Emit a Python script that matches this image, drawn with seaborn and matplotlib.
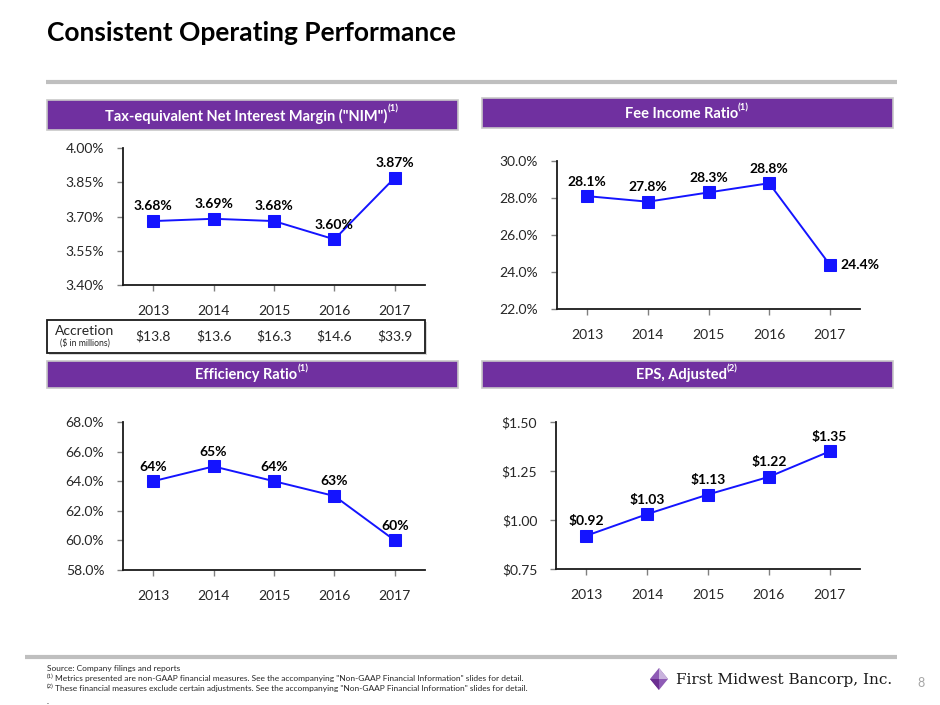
import numpy as np
import pandas as pd
import matplotlib
matplotlib.use("Agg")
import matplotlib.pyplot as plt
import seaborn as sns
from matplotlib import transforms
from matplotlib.patches import Rectangle, Polygon

# ---------------- data ----------------
years = ["2013", "2014", "2015", "2016", "2017"]
nim_values = [3.68, 3.69, 3.68, 3.60, 3.87]
nim_labels = ["3.68%", "3.69%", "3.68%", "3.60%", "3.87%"]
nim_ticks = [3.40, 3.55, 3.70, 3.85, 4.00]
accretion = ["$13.8", "$13.6", "$16.3", "$14.6", "$33.9"]

fee_values = [28.1, 27.8, 28.3, 28.8, 24.4]
fee_labels = ["28.1%", "27.8%", "28.3%", "28.8%", "24.4%"]
fee_ticks = [22.0, 24.0, 26.0, 28.0, 30.0]

eff_values = [64, 65, 64, 63, 60]
eff_labels = ["64%", "65%", "64%", "63%", "60%"]
eff_ticks = [58.0, 60.0, 62.0, 64.0, 66.0, 68.0]

eps_values = [0.92, 1.03, 1.13, 1.22, 1.35]
eps_labels = ["$0.92", "$1.03", "$1.13", "$1.22", "$1.35"]
eps_ticks = [0.75, 1.00, 1.25, 1.50]

# ---------------- style ----------------
sns.set_theme(style="white")
plt.rcParams["font.family"] = ["Lato", "DejaVu Sans"]

W, H = 940, 705
PURPLE = "#7030A0"
BLUE = "#1414FF"
TXT = "#262626"

fig = plt.figure(figsize=(W / 100, H / 100), dpi=100)
fig.patch.set_facecolor("white")

bg = fig.add_axes([0, 0, 1, 1], zorder=-5)
bg.set_xlim(0, W)
bg.set_ylim(H, 0)
bg.axis("off")

# title + rules
bg.text(47, 33, "Consistent Operating Performance", fontsize=19, fontweight="bold",
        color="black", ha="left", va="center")
bg.plot([46, 897], [82, 82], color="#BFBFBF", lw=3, solid_capstyle="butt")
bg.plot([25, 897], [657, 657], color="#BFBFBF", lw=3, solid_capstyle="butt")


def header(x0, x1, y0, y1, text, sup):
    bg.add_patch(Rectangle((x0, y0), x1 - x0, y1 - y0, facecolor=PURPLE,
                           edgecolor="#C8C8C8", lw=1.2))
    t = bg.text((x0 + x1) / 2 - 6, (y0 + y1) / 2 + 1, text, color="white",
                fontsize=10.5, fontweight="bold", ha="center", va="center")
    bg.annotate(sup, xy=(1.0, 0.95), xycoords=t, ha="left", va="center",
                color="white", fontsize=7, fontweight="bold")


header(47, 458, 100, 130, 'Tax-equivalent Net Interest Margin ("NIM")', "(1)")
header(482, 893, 98, 128, "Fee Income Ratio", "(1)")
header(47, 458, 361, 388, "Efficiency Ratio", "(1)")
header(482, 893, 361, 388, "EPS, Adjusted", "(2)")


def chart(l, t, r, b, vals, labels, ticks, fmt, offsets):
    ax = fig.add_axes([l / W, 1 - b / H, (r - l) / W, (b - t) / H])
    df = pd.DataFrame({"Year": years, "Value": vals})
    sns.lineplot(data=df, x="Year", y="Value", ax=ax, color=BLUE, lw=1.4,
                 marker="s", markersize=8, markerfacecolor=BLUE,
                 markeredgecolor=BLUE, sort=False)
    ax.set_xlim(-0.5, 4.5)
    ax.set_ylim(ticks[0], ticks[-1])
    ax.set_yticks(ticks)
    ax.set_yticklabels([fmt(v) for v in ticks])
    ax.set_xlabel("")
    ax.set_ylabel("")
    ax.set_facecolor("none")
    for s in ["top", "right"]:
        ax.spines[s].set_visible(False)
    for s in ["left", "bottom"]:
        ax.spines[s].set_color("#1a1a1a")
        ax.spines[s].set_linewidth(1.3)
    ax.tick_params(axis="both", which="major", length=4.5, width=1,
                   color="#808080", labelsize=10, labelcolor=TXT,
                   direction="out", left=True, bottom=True)
    ax.tick_params(axis="x", pad=10)
    ax.tick_params(axis="y", pad=9)
    for i, (v, lab) in enumerate(zip(vals, labels)):
        dx, dy, ha = offsets[i]
        ax.annotate(lab, (i, v), xytext=(dx, dy), textcoords="offset points",
                    ha=ha, va="center", fontsize=10, fontweight="bold",
                    color="black")
    return ax


up = (0, 10.5, "center")
ax_nim = chart(123, 148, 425, 285, nim_values, nim_labels, nim_ticks,
               lambda v: f"{v:.2f}%", [up] * 5)
ax_fee = chart(557, 161, 860, 309, fee_values, fee_labels, fee_ticks,
               lambda v: f"{v:.1f}%", [up, up, up, up, (8, 0, "left")])
ax_eff = chart(123, 422, 425, 570, eff_values, eff_labels, eff_ticks,
               lambda v: f"{v:.1f}%", [up] * 5)
ax_eps = chart(556, 422, 860, 569, eps_values, eps_labels, eps_ticks,
               lambda v: f"${v:.2f}", [up] * 5)

# accretion box
bg.add_patch(Rectangle((49, 322), 378, 33, facecolor="#D9D9D9", edgecolor="none"))
bg.add_patch(Rectangle((47, 320), 378, 33, facecolor="white", edgecolor="#1a1a1a", lw=1.3))
bg.text(85, 331, "Accretion", fontsize=10, color=TXT, ha="center", va="center")
bg.text(85, 343, "($ in millions)", fontsize=6.2, color=TXT, ha="center", va="center")
tr = transforms.blended_transform_factory(ax_nim.transData, bg.transData)
for i, a in enumerate(accretion):
    bg.text(i, 336, a, transform=tr, fontsize=10, color=TXT, ha="center", va="center")

# footer
fs = 6.05
bg.text(47, 668, "Source: Company filings and reports", fontsize=fs, color=TXT,
        ha="left", va="center")
bg.text(47, 676, "(1)", fontsize=4.3, color=TXT, ha="left", va="center")
bg.text(55, 679, 'Metrics presented are non-GAAP financial measures. See the accompanying '
        '"Non-GAAP Financial Information" slides for detail.', fontsize=fs, color=TXT,
        ha="left", va="center")
bg.text(47, 686, "(2)", fontsize=4.3, color=TXT, ha="left", va="center")
bg.text(55, 689, 'These financial measures exclude certain adjustments. See the accompanying '
        '"Non-GAAP Financial Information" slides for detail.', fontsize=fs, color=TXT,
        ha="left", va="center")
bg.text(47, 701, ".", fontsize=fs, color=TXT, ha="left", va="center")

# logo
cx, cy, rx, ry = 659, 679, 9, 11
bg.add_patch(Polygon([(cx, cy - ry), (cx + rx, cy), (cx, cy + ry), (cx - rx, cy)],
                     closed=True, facecolor="#8E5BB5", edgecolor="none"))
bg.add_patch(Polygon([(cx, cy - ry), (cx + rx, cy), (cx, cy)], closed=True,
                     facecolor="#C9B3DD", edgecolor="none"))
bg.add_patch(Polygon([(cx - rx, cy), (cx, cy), (cx, cy + ry)], closed=True,
                     facecolor="#6B2E91", edgecolor="none"))
bg.text(676, 680, "First Midwest Bancorp, Inc.", fontsize=11, color="#1a1a1a",
        family="DejaVu Serif", ha="left", va="center")
bg.text(921, 683, "8", fontsize=9, color="#A6A6A6", ha="center", va="center")

fig.savefig("out.png", dpi=100, facecolor="white")
